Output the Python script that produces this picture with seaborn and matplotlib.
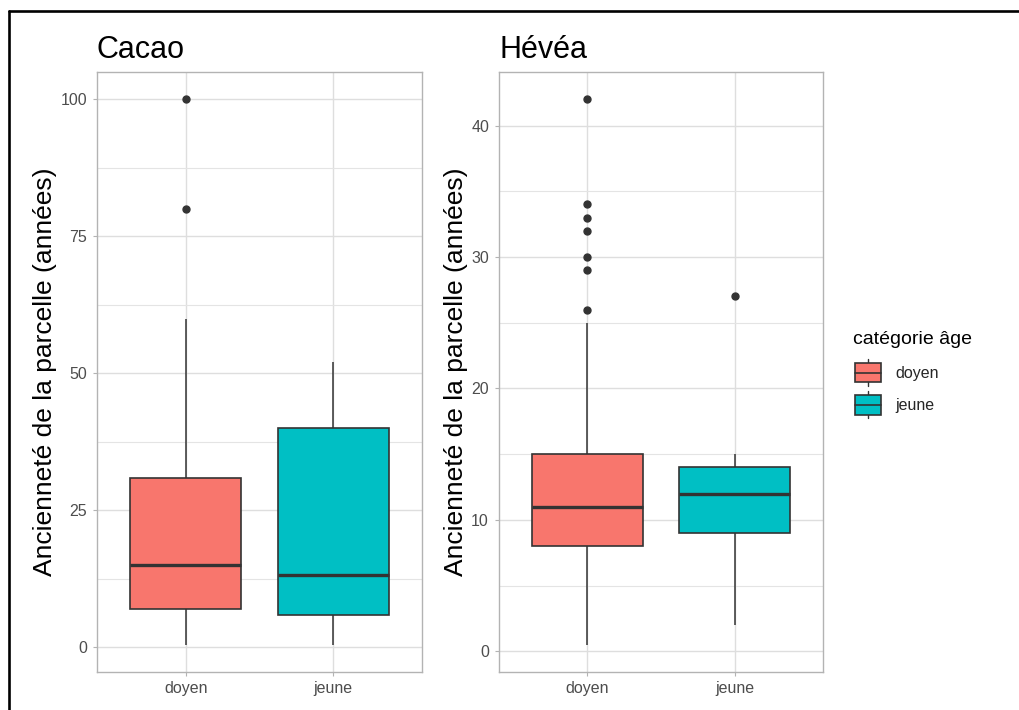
import matplotlib
matplotlib.use("Agg")
import numpy as np
import pandas as pd
import seaborn as sns
import matplotlib.pyplot as plt
import matplotlib.patches as mpatches
from matplotlib.lines import Line2D
from matplotlib.legend_handler import HandlerBase
from matplotlib.ticker import MultipleLocator

# Age categories and crops
categories = ["doyen", "jeune"]
cultures = ["Cacao", "Hévéa"]
palette = {"doyen": "#F8766D", "jeune": "#00BFC4"}

# Plot age (years) per farmer age category
cacao_doyen = [0.5, 3, 5, 7, 10, 12, 15, 20, 25, 31, 60, 80, 100]
cacao_jeune = [0.5, 3, 6, 10, 13.25, 20, 40, 47, 52]
hevea_doyen = [0.5, 2, 3, 4, 5, 5, 6, 7, 7, 8,
               8,
               8, 9, 9, 10, 10, 10, 10, 11, 11,
               11,
               12, 12, 12, 13, 13, 14, 14, 15, 15,
               15,
               18, 20, 25, 26, 29, 30, 32, 33, 34, 42]
hevea_jeune = [2, 6, 9, 11, 12, 13, 14, 15, 27]

cacao_ticks = [0, 25, 50, 75, 100]
hevea_ticks = [0, 10, 20, 30, 40]

y_title = "Ancienneté de la parcelle (années)"
legend_title = "catégorie âge"

sns.set_theme(style="white")
plt.rcParams["font.family"] = ["Liberation Sans", "DejaVu Sans"]

W, H = 1019, 710
fig = plt.figure(figsize=(W / 100, H / 100), dpi=100)
fig.patch.set_facecolor("white")

ax1 = fig.add_axes([97 / W, 38 / H, 325 / W, 600 / H])
ax2 = fig.add_axes([499 / W, 38 / H, 324 / W, 600 / H])

EDGE = "#333333"


def draw_panel(ax, title, doyen, jeune, ticks, minor_step):
    df = pd.DataFrame({
        "categorie": ["doyen"] * len(doyen) + ["jeune"] * len(jeune),
        "anciennete": list(doyen) + list(jeune),
    })
    sns.boxplot(
        data=df, x="categorie", y="anciennete", hue="categorie",
        order=categories, hue_order=categories, palette=palette,
        saturation=1, width=0.75, showcaps=False, whis=1.5,
        linecolor=EDGE, linewidth=1.2,
        medianprops={"linewidth": 2.4, "color": EDGE},
        whiskerprops={"linewidth": 1.1, "color": EDGE},
        flierprops={"marker": "o", "markerfacecolor": EDGE,
                    "markeredgecolor": EDGE, "markersize": 5},
        legend=False, ax=ax,
    )
    vals = df["anciennete"]
    lo, hi = vals.min(), vals.max()
    pad = 0.05 * (hi - lo)
    ax.set_ylim(lo - pad, hi + pad)
    ax.set_xlim(-0.6, 1.6)

    ax.set_yticks(ticks)
    ax.yaxis.set_minor_locator(MultipleLocator(minor_step))
    ax.set_axisbelow(True)
    ax.grid(True, which="major", axis="both", color="#DEDEDE", linewidth=1.0)
    ax.grid(True, which="minor", axis="y", color="#E4E4E4", linewidth=0.8)

    ax.tick_params(axis="both", which="major", bottom=True, left=True,
                   length=3, width=0.8, color="#B3B3B3",
                   labelcolor="#4D4D4D", labelsize=11.5)
    ax.tick_params(axis="x", which="major", pad=3.5)
    ax.tick_params(axis="y", which="major", pad=4.2)
    ax.tick_params(which="minor", length=0)
    for sp in ax.spines.values():
        sp.set_visible(True)
        sp.set_color("#B3B3B3")
        sp.set_linewidth(1.0)

    ax.set_xlabel("")
    ax.set_ylabel(y_title, fontsize=19, color="black", labelpad=2.5)
    ax.set_title(title, loc="left", fontsize=22, pad=10, color="black")


draw_panel(ax1, cultures[0], cacao_doyen, cacao_jeune, cacao_ticks, 12.5)
draw_panel(ax2, cultures[1], hevea_doyen, hevea_jeune, hevea_ticks, 5)


class BoxKeyHandler(HandlerBase):
    """Legend key drawn as a small box-and-whisker glyph."""

    def create_artists(self, legend, orig_handle, xdescent, ydescent,
                       width, height, fontsize, trans):
        x0, y0 = -xdescent, -ydescent
        cx = x0 + width / 2
        inset = height * 0.14
        whisker = Line2D([cx, cx], [y0, y0 + height], color=EDGE,
                         lw=1.0, transform=trans)
        box = mpatches.Rectangle((x0, y0 + inset), width, height - 2 * inset,
                                 facecolor=orig_handle.get_facecolor(),
                                 edgecolor=EDGE, lw=1.2, transform=trans)
        med = Line2D([x0, x0 + width], [y0 + height / 2] * 2, color=EDGE,
                     lw=1.2, transform=trans)
        return [whisker, box, med]


# Legend title, then the keys beneath it
fig.text(853 / W, 1 - 340 / H, legend_title, fontsize=14, color="black",
         ha="left", va="center")
handles = [mpatches.Patch(facecolor=palette[c]) for c in categories]
fig.legend(
    handles, categories,
    loc="upper left", bbox_to_anchor=(855 / W, 1 - 359 / H),
    frameon=False, fontsize=11.5,
    handlelength=1.6, handleheight=2.25, handletextpad=0.95,
    labelspacing=0.3, borderpad=0, borderaxespad=0,
    handler_map={mpatches.Patch: BoxKeyHandler()},
)

# Outer frame along the top and left edges
fig.add_artist(Line2D([8.5 / W, 1.0], [1 - 10.5 / H] * 2,
                      transform=fig.transFigure, color="black", lw=1.9))
fig.add_artist(Line2D([8.5 / W] * 2, [0.0, 1 - 10.5 / H],
                      transform=fig.transFigure, color="black", lw=1.9))

fig.savefig("out.png", dpi=100, facecolor="white")
